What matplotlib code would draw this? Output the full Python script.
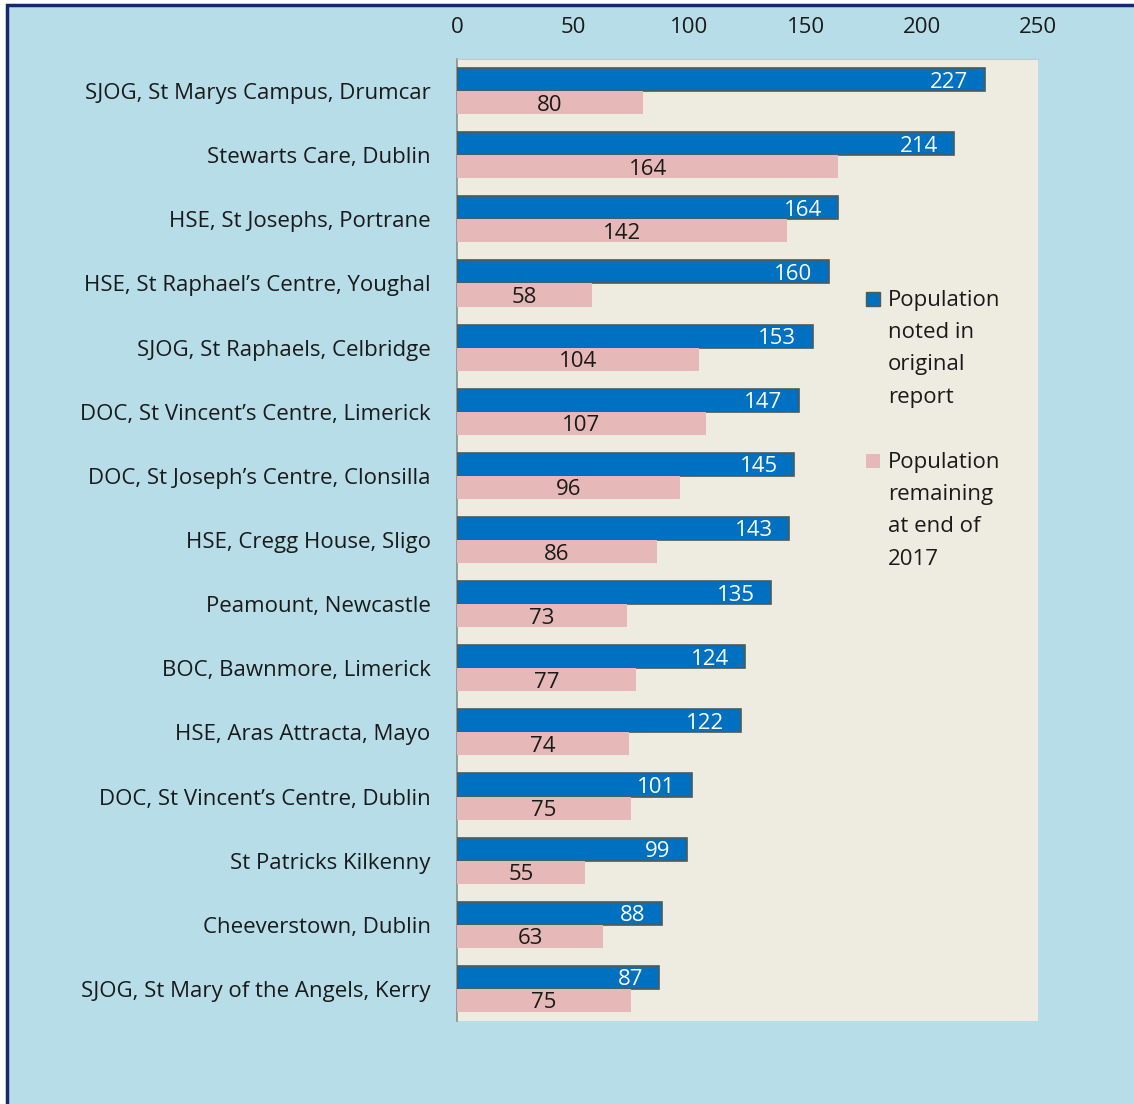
import matplotlib.pyplot as plt
from matplotlib.patches import Rectangle

# Data (top to bottom)
centres = [
    "SJOG, St Marys Campus, Drumcar",
    "Stewarts Care, Dublin",
    "HSE, St Josephs, Portrane",
    "HSE, St Raphael\u2019s Centre, Youghal",
    "SJOG, St Raphaels, Celbridge",
    "DOC, St Vincent\u2019s Centre, Limerick",
    "DOC, St Joseph\u2019s Centre, Clonsilla",
    "HSE, Cregg House, Sligo",
    "Peamount, Newcastle",
    "BOC, Bawnmore, Limerick",
    "HSE, Aras Attracta, Mayo",
    "DOC, St Vincent\u2019s Centre, Dublin",
    "St Patricks Kilkenny",
    "Cheeverstown, Dublin",
    "SJOG, St Mary of the Angels, Kerry",
]
original = [227, 214, 164, 160, 153, 147, 145, 143, 135, 124, 122, 101, 99, 88, 87]
remaining = [80, 164, 142, 58, 104, 107, 96, 86, 73, 77, 74, 75, 55, 63, 75]
x_ticks = [0, 50, 100, 150, 200, 250]
legend_labels = ["Population\nnoted in\noriginal\nreport",
                 "Population\nremaining\nat end of\n2017"]

BLUE = '#0070C0'
PINK = '#E6B9B8'
EDGE = '#4F5B55'
BG = '#B7DDE8'
PLOT_BG = '#EEECE1'
TXT = '#1A1A1A'
FS = 16

plt.rcParams['font.family'] = ['Open Sans', 'DejaVu Sans']

W, H = 1134, 1104
fig = plt.figure(figsize=(W / 100, H / 100), dpi=100, facecolor='white')

# outer frame (top and left edges visible, rest runs off the canvas)
fig.patches.append(Rectangle((7 / W, -0.05), 1.1, 1 - 5 / H + 0.05,
                             transform=fig.transFigure, facecolor=BG,
                             edgecolor='#17276B', linewidth=2.5, zorder=-5))

ax = fig.add_axes([457 / W, 1 - 1021 / H, 581 / W, 962 / H])
ax.set_facecolor(PLOT_BG)

n = len(centres)
pos = list(range(n))
h = 0.36
blue_y = [p - h / 2 for p in pos]
pink_y = [p + h / 2 for p in pos]

ax.barh(blue_y, original, height=h, color=BLUE, edgecolor=EDGE,
        linewidth=1.2, zorder=3)
ax.barh(pink_y, remaining, height=h, color=PINK, edgecolor='none', zorder=3)

for y, v in zip(blue_y, original):
    ax.text(v - 7, y, str(v), color='white', ha='right',
            va='center_baseline', fontsize=FS, zorder=4)
for y, v in zip(pink_y, remaining):
    ax.text(v / 2, y, str(v), color=TXT, ha='center',
            va='center_baseline', fontsize=FS, zorder=4)

ax.set_xlim(0, 250)
ax.set_ylim(n - 0.5, -0.5)
ax.set_yticks(pos)
ax.set_yticklabels(centres)
ax.set_xticks(x_ticks)
ax.xaxis.tick_top()
ax.tick_params(axis='x', length=0, pad=15, labelsize=FS, colors=TXT)
ax.tick_params(axis='y', length=0, pad=19, labelsize=FS, colors=TXT)

for s in ['right', 'bottom']:
    ax.spines[s].set_visible(False)
ax.spines['top'].set_color('#C8C8C8')
ax.spines['top'].set_linewidth(0.8)
ax.spines['left'].set_color('#8C8C8C')
ax.spines['left'].set_linewidth(1.2)

# legend: square key next to the first line of each wrapped label
for i, (col, ec, lab) in enumerate(zip([BLUE, PINK], [EDGE, 'none'],
                                       legend_labels)):
    top = 292 + i * 162
    ax.add_patch(Rectangle(((866 - 457) / 581, 1 - (top + 14 - 59) / 962),
                           14 / 581, 14 / 962, transform=ax.transAxes,
                           facecolor=col, edgecolor=ec, linewidth=1.0,
                           clip_on=False, zorder=5))
    ax.text((888 - 457) / 581, 1 - (top - 2 - 59) / 962, lab,
            transform=ax.transAxes, ha='left', va='top', fontsize=FS,
            color=TXT, linespacing=1.7, zorder=5)

fig.savefig('out.png', dpi=100, facecolor=fig.get_facecolor())
